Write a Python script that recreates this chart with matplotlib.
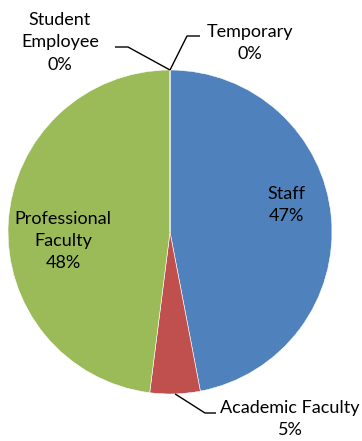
import numpy as np
import matplotlib
matplotlib.use("Agg")
import matplotlib.pyplot as plt

categories = ["Staff", "Academic Faculty", "Professional Faculty", "Student\nEmployee", "Temporary"]
shares = [47.0, 5.0, 48.0, 0.0, 0.0]
pct_labels = ["47%", "5%", "48%", "0%", "0%"]
colors = ["#4F81BD", "#C0504D", "#9BBB59", "#8064A2", "#4BACC6"]

W, H = 362, 441
CX, CY, R = 170, 232, 162

def d(px, py):
    return ((px - CX) / R, (CY - py) / R)

fig = plt.figure(figsize=(W / 100, H / 100), dpi=100)
ax = fig.add_axes([0, 0, 1, 1])

wedges, _ = ax.pie(shares, colors=colors, startangle=90, counterclock=False,
                   radius=1.0, wedgeprops=dict(edgecolor="white", linewidth=0.4))
ax.set_xlim((0 - CX) / R, (W - CX) / R)
ax.set_ylim((CY - H) / R, CY / R)
ax.set_aspect("equal")
ax.axis("off")

font = dict(family=["Lato", "DejaVu Sans"], fontsize=13, color="#000000",
            ha="center", va="center", linespacing=1.5)

def edge_point(w):
    ang = np.deg2rad((w.theta1 + w.theta2) / 2)
    return np.cos(ang), np.sin(ang)

# inside labels
x, y = d(286, 205)
ax.text(x, y, f"{categories[0]}\n{pct_labels[0]}", **font)
x, y = d(63, 241)
ax.text(x, y, "Professional\nFaculty\n" + pct_labels[2], **font)

# outside labels with leader lines
outside = [
    (1, (290, 419), [(205, 413), (216, 413)]),
    (3, (60, 42), [(128, 47), (115, 47)]),
    (4, (250, 43), [(187, 36), (200, 36)]),
]
for i, (lx, ly), pts in outside:
    sx, sy = edge_point(wedges[i])
    xs = [sx] + [d(*p)[0] for p in pts]
    ys = [sy] + [d(*p)[1] for p in pts]
    ax.plot(xs, ys, color="black", linewidth=1.0, solid_capstyle="butt")
    x, y = d(lx, ly)
    name = categories[i]
    ax.text(x, y, f"{name}\n{pct_labels[i]}", **font)

fig.savefig("out.png", dpi=100, facecolor="white")
